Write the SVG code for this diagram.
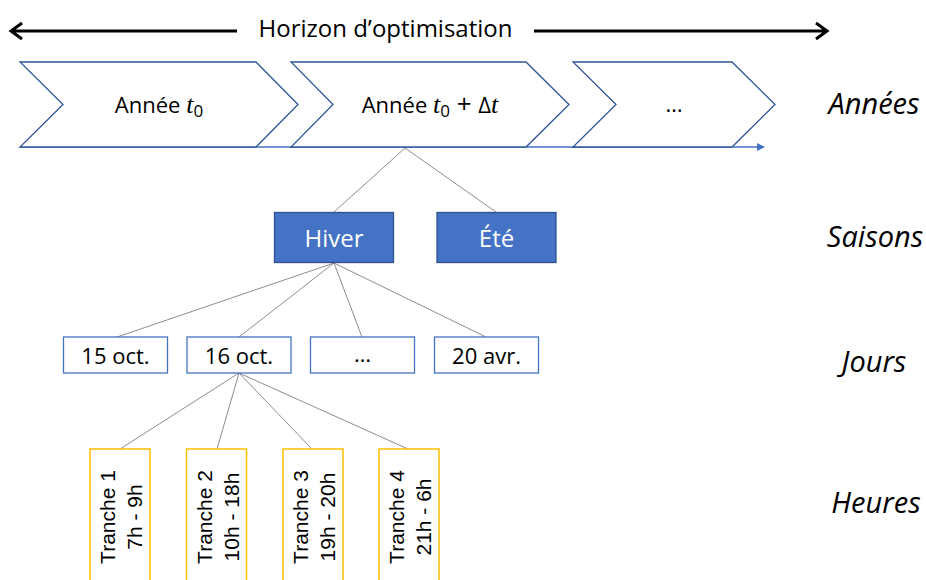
<svg xmlns="http://www.w3.org/2000/svg" width="926" height="580" viewBox="0 0 926 580">
<defs>
<marker id="ah" viewBox="0 0 10 10" refX="9" refY="5" markerWidth="8" markerHeight="8" markerUnits="userSpaceOnUse" orient="auto"><path d="M0,0 L10,5 L0,10 Z" fill="#4472C4"/></marker>
</defs>
<style>
.chev{fill:#fff;stroke:#2F5597;stroke-width:1.3}
.season rect{fill:#4472C4;stroke:#2F528F;stroke-width:1.3}
.season text{fill:#fff;font-family:"Open Sans","Noto Sans",sans-serif;font-size:24px;text-anchor:middle}
.day rect{fill:#fff;stroke:#4472C4;stroke-width:1.3}
.day text{fill:#000;font-family:"Open Sans","Noto Sans",sans-serif;font-size:22px;text-anchor:middle}
.tr rect{fill:#fff;stroke:#FFC000;stroke-width:1.5}
.tr text{fill:#000;font-family:"Liberation Sans",Arial,sans-serif;font-size:21px;text-anchor:middle}
.yr{font-family:"Open Sans","Noto Sans",sans-serif;font-size:22px;text-anchor:middle;fill:#000}
.math{font-family:"Liberation Serif",serif;font-style:italic}
.lvl{font-family:"Open Sans","Noto Sans",sans-serif;font-style:italic;font-size:29px;fill:#000;text-anchor:middle}
.conn line{stroke:#808080;stroke-width:0.9}
</style>
<rect width="926" height="580" fill="#fff"/>
<g id="horizon">
<path d="M237,31 L12,31 M22,23 L11,31 L22,39" fill="none" stroke="#000" stroke-width="3" stroke-linejoin="miter"/>
<path d="M534,31 L827,31 M816,23 L827,31 L816,39" fill="none" stroke="#000" stroke-width="3"/>
<text x="385.5" y="37" font-family="'Open Sans','Noto Sans',sans-serif" font-size="24" text-anchor="middle" fill="#000">Horizon d’optimisation</text>
</g>
<g id="timeline">
<line x1="20" y1="147" x2="764" y2="147" stroke="#4472C4" stroke-width="1.3" marker-end="url(#ah)"/>
</g>
<g id="year1">
<path class="chev" d="M20,62 L256,62 L298,104.5 L256,147 L20,147 L63,104.5 Z"/>
<text class="yr" x="159" y="113">Année <tspan class="math" font-size="26">t</tspan><tspan font-size="17" dy="4">0</tspan></text>
</g>
<g id="year2">
<path class="chev" d="M291,62 L526,62 L569,104.5 L526,147 L291,147 L333,104.5 Z"/>
<text class="yr" x="430" y="113">Année <tspan class="math" font-size="26">t</tspan><tspan font-size="17" dy="4">0</tspan><tspan dy="-4" font-size="26"> + </tspan><tspan>Δ</tspan><tspan class="math" font-size="26">t</tspan></text>
</g>
<g id="year3">
<path class="chev" d="M573,62 L732,62 L775,104.5 L732,147 L573,147 L616,104.5 Z"/>
<text class="yr" x="674" y="112">…</text>
</g>
<g class="conn" id="connectors">
<line x1="405" y1="148" x2="334" y2="212"/>
<line x1="405" y1="148" x2="496" y2="212"/>
<line x1="334" y1="263" x2="117" y2="337"/>
<line x1="334" y1="263" x2="239" y2="337"/>
<line x1="334" y1="263" x2="362" y2="337"/>
<line x1="334" y1="263" x2="486" y2="337"/>
<line x1="239" y1="373" x2="120" y2="449"/>
<line x1="239" y1="373" x2="217" y2="449"/>
<line x1="239" y1="373" x2="312" y2="449"/>
<line x1="239" y1="373" x2="408" y2="449"/>
</g>
<g id="hiver" class="season"><rect x="274.5" y="212.5" width="119" height="50"/><text x="334" y="247">Hiver</text></g>
<g id="ete" class="season"><rect x="437" y="212.5" width="119" height="50"/><text x="496.5" y="247">Été</text></g>
<g id="d15" class="day"><rect x="63.5" y="337" width="104" height="36"/><text x="115.5" y="364">15 oct.</text></g>
<g id="d16" class="day"><rect x="187" y="337" width="104" height="36"/><text x="239" y="364">16 oct.</text></g>
<g id="ddots" class="day"><rect x="310.5" y="337" width="104" height="36"/><text x="362.5" y="362">…</text></g>
<g id="d20" class="day"><rect x="434.5" y="337" width="104" height="36"/><text x="486.5" y="364">20 avr.</text></g>
<g id="t1" class="tr"><rect x="90" y="449" width="60" height="140"/><text transform="translate(115,517) rotate(-90)">Tranche 1</text><text transform="translate(142,517) rotate(-90)">7h - 9h</text></g>
<g id="t2" class="tr"><rect x="186.5" y="449" width="60" height="140"/><text transform="translate(212,517) rotate(-90)">Tranche 2</text><text transform="translate(239,517) rotate(-90)">10h - 18h</text></g>
<g id="t3" class="tr"><rect x="283" y="449" width="60" height="140"/><text transform="translate(308,517) rotate(-90)">Tranche 3</text><text transform="translate(335,517) rotate(-90)">19h - 20h</text></g>
<g id="t4" class="tr"><rect x="379" y="449" width="60" height="140"/><text transform="translate(404,517) rotate(-90)">Tranche 4</text><text transform="translate(431,517) rotate(-90)">21h - 6h</text></g>
<g id="labels">
<text class="lvl" x="874" y="114">Années</text>
<text class="lvl" x="875" y="247">Saisons</text>
<text class="lvl" x="874" y="372">Jours</text>
<text class="lvl" x="876" y="513">Heures</text>
</g>
</svg>
